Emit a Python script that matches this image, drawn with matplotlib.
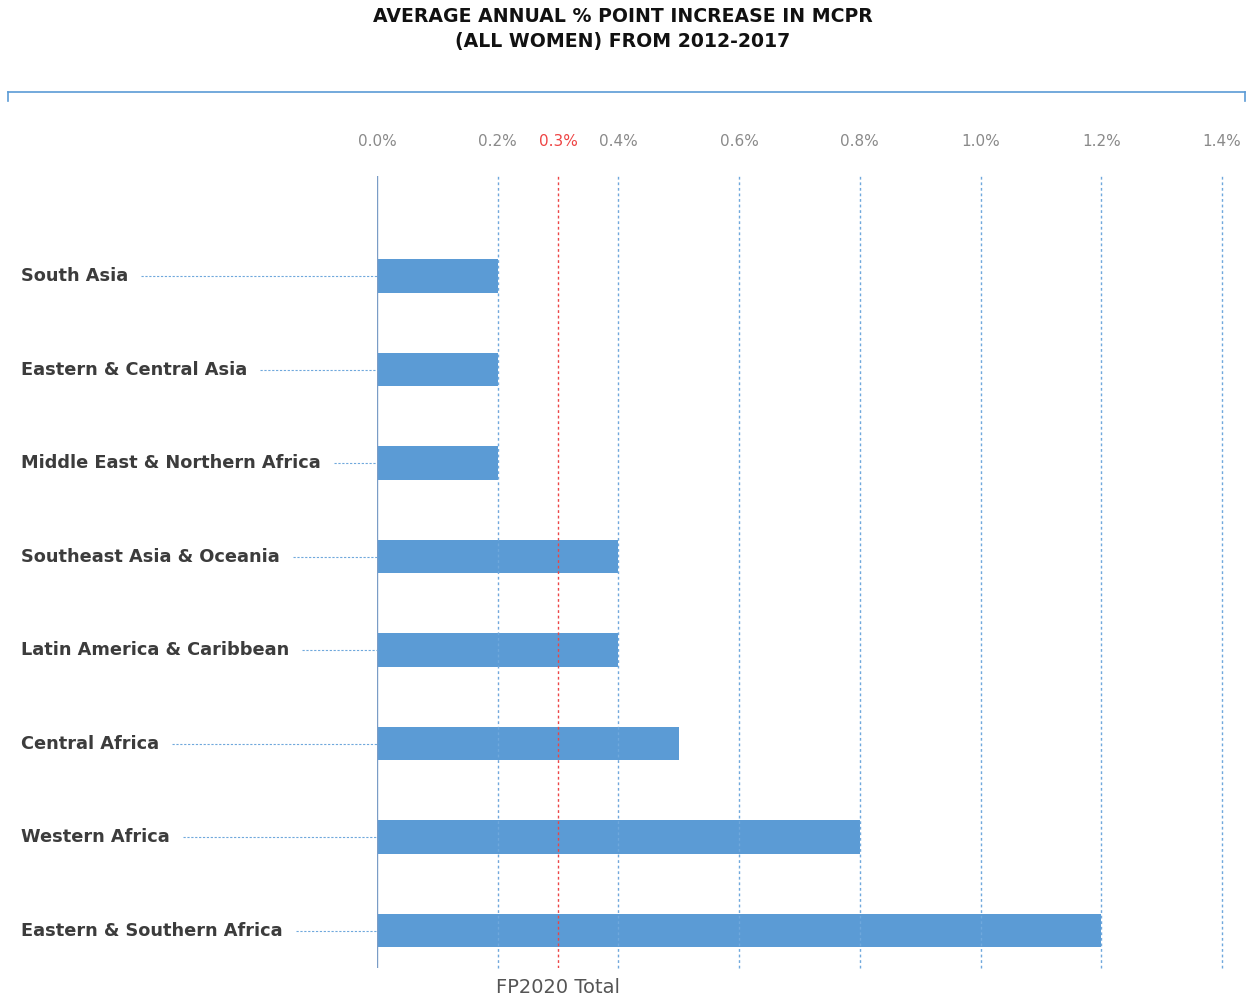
import matplotlib
matplotlib.use("Agg")
import matplotlib.pyplot as plt
from matplotlib.lines import Line2D

regions = ["South Asia", "Eastern & Central Asia", "Middle East & Northern Africa",
           "Southeast Asia & Oceania", "Latin America & Caribbean", "Central Africa",
           "Western Africa", "Eastern & Southern Africa"]
increase = [0.2, 0.2, 0.2, 0.4, 0.4, 0.5, 0.8, 1.2]
ticks = [0.0, 0.2, 0.4, 0.6, 0.8, 1.0, 1.2, 1.4]
fp2020_total = 0.3

blue = "#5b9bd5"
grid_blue = "#6fa8dc"
W, H = 1246, 996

fig = plt.figure(figsize=(W / 100, H / 100), dpi=100)
ax = fig.add_axes([377 / W, 1 - 968 / H, (1222 - 377) / W, (968 - 176) / H])

ypos = list(range(len(regions)))
ax.barh(ypos, increase, height=0.36, color=blue, zorder=2)

ax.set_xlim(0, 1.4)
ax.set_ylim(7.4, -1.07)
for t in ticks[1:]:
    ax.axvline(t, color=grid_blue, lw=1, ls=(0, (2, 2)), zorder=3, clip_on=False)
ax.axvline(0, color="#7a9cc6", lw=1, zorder=3)
ax.axvline(fp2020_total, color="#ee4444", lw=1, ls=(0, (2, 2)), zorder=3)

for s in ax.spines.values():
    s.set_visible(False)
ax.set_yticks([])
ax.xaxis.tick_top()
ax.set_xticks(ticks)
ax.set_xticklabels(["%.1f%%" % t for t in ticks])
ax.tick_params(axis="x", length=0, pad=19.5, labelsize=11, labelcolor="#8a8a8a")

# extra red tick label for FP2020 total
ax.annotate("%.1f%%" % fp2020_total, xy=(fp2020_total, 1.0), xycoords=ax.get_xaxis_transform(),
            xytext=(0, 19.5), textcoords="offset points",
            ha="center", va="bottom", fontsize=11, color="#ee4444")

fig.text(558 / W, 1 - 987 / H, "FP2020 Total", ha="center", va="center",
         fontsize=14, color="#555555")

# category labels with dotted leaders
fig.canvas.draw()
renderer = fig.canvas.get_renderer()
for i, name in enumerate(regions):
    yf = ax.transData.transform((0, i))[1]
    t = fig.text(21 / W, yf / H, name, ha="left", va="center", fontsize=12.8,
                 fontweight="bold", color="#3c3c3c")
    bb = t.get_window_extent(renderer)
    x0 = (bb.x1 + 13) / W
    fig.add_artist(Line2D([x0, 377 / W], [yf / H, yf / H], transform=fig.transFigure,
                          color=grid_blue, lw=0.8, ls=(0, (2, 1.5))))

# top border bracket
yb = 1 - 92 / H
fig.add_artist(Line2D([8 / W, 1245 / W], [yb, yb], transform=fig.transFigure, color=blue, lw=1.2))
fig.add_artist(Line2D([8 / W, 8 / W], [yb, yb - 9 / H], transform=fig.transFigure, color=blue, lw=1.2))
fig.add_artist(Line2D([1245 / W, 1245 / W], [yb, yb - 9 / H], transform=fig.transFigure, color=blue, lw=1.2))

fig.text(0.5, 1 - 17 / H, "AVERAGE ANNUAL % POINT INCREASE IN MCPR", ha="center", va="center",
         fontsize=13.6, fontweight="bold", color="#111111")
fig.text(0.5, 1 - 41 / H, "(ALL WOMEN) FROM 2012-2017", ha="center", va="center",
         fontsize=13.6, fontweight="bold", color="#111111")

fig.savefig("out.png", dpi=100)
